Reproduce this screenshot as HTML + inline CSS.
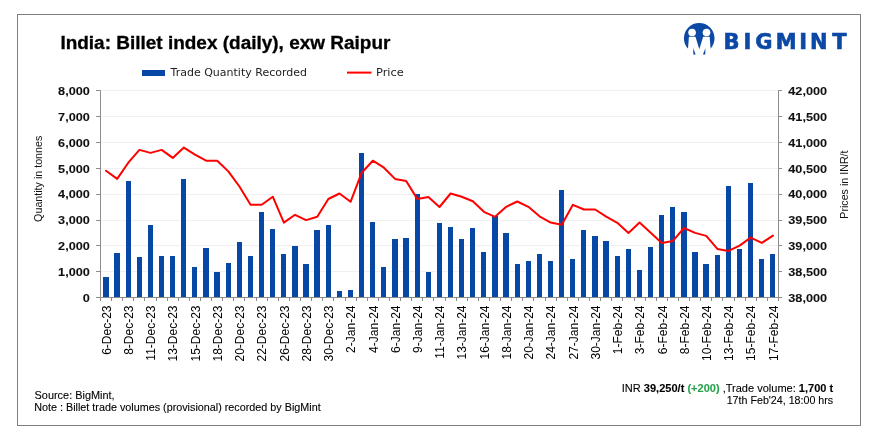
<!DOCTYPE html>
<html lang="en"><head><meta charset="utf-8"><title>India: Billet index (daily), exw Raipur</title>
<style>
html,body{margin:0;padding:0;background:#fff;}
body{width:881px;height:447px;overflow:hidden;}
svg{display:block;}
text{font-family:"Liberation Sans",Arial,sans-serif;fill:#111;}
.t{font-weight:700;font-size:18px;fill:#000;}
.yl{font-weight:700;font-size:11.7px;fill:#111;stroke:#111;stroke-width:0.08px;}
.xl{font-size:12px;fill:#000;}
.at{font-size:10.7px;fill:#111;}
.lg{font-family:"DejaVu Sans","Liberation Sans",sans-serif;font-size:10.3px;fill:#222;}
.ft{font-size:10.8px;fill:#000;stroke:#000;stroke-width:0.1px;}
.b{font-weight:700;}
.g{font-weight:700;fill:#2aa24d;stroke:#2aa24d;}
.logo{font-family:"DejaVu Sans","Liberation Sans",sans-serif;font-weight:700;font-size:21px;fill:#0c49a5;}
</style></head><body>
<svg width="881" height="447" viewBox="0 0 881 447">
<rect x="0" y="0" width="881" height="447" fill="#fff"/>
<rect x="17.5" y="14.5" width="843" height="411" fill="#fff" stroke="#7f7f7f" stroke-width="1"/>
<line x1="100.5" y1="271.50" x2="778.5" y2="271.50" stroke="#f0f0f0" stroke-width="1"/>
<line x1="100.5" y1="245.50" x2="778.5" y2="245.50" stroke="#f0f0f0" stroke-width="1"/>
<line x1="100.5" y1="220.50" x2="778.5" y2="220.50" stroke="#f0f0f0" stroke-width="1"/>
<line x1="100.5" y1="194.50" x2="778.5" y2="194.50" stroke="#f0f0f0" stroke-width="1"/>
<line x1="100.5" y1="168.50" x2="778.5" y2="168.50" stroke="#f0f0f0" stroke-width="1"/>
<line x1="100.5" y1="142.50" x2="778.5" y2="142.50" stroke="#f0f0f0" stroke-width="1"/>
<line x1="100.5" y1="116.50" x2="778.5" y2="116.50" stroke="#f0f0f0" stroke-width="1"/>
<line x1="100.5" y1="90.50" x2="778.5" y2="90.50" stroke="#f0f0f0" stroke-width="1"/>
<g fill="#0747A6">
<rect x="103" y="277" width="6" height="20"/>
<rect x="114" y="253" width="6" height="44"/>
<rect x="126" y="181" width="5" height="116"/>
<rect x="137" y="257" width="5" height="40"/>
<rect x="148" y="225" width="5" height="72"/>
<rect x="159" y="256" width="5" height="41"/>
<rect x="170" y="256" width="5" height="41"/>
<rect x="181" y="179" width="5" height="118"/>
<rect x="192" y="267" width="5" height="30"/>
<rect x="203" y="248" width="6" height="49"/>
<rect x="214" y="272" width="6" height="25"/>
<rect x="226" y="263" width="5" height="34"/>
<rect x="237" y="242" width="5" height="55"/>
<rect x="248" y="256" width="5" height="41"/>
<rect x="259" y="212" width="5" height="85"/>
<rect x="270" y="229" width="5" height="68"/>
<rect x="281" y="254" width="5" height="43"/>
<rect x="292" y="246" width="6" height="51"/>
<rect x="303" y="264" width="6" height="33"/>
<rect x="314" y="230" width="6" height="67"/>
<rect x="326" y="225" width="5" height="72"/>
<rect x="337" y="291" width="5" height="6"/>
<rect x="348" y="290" width="5" height="7"/>
<rect x="359" y="153" width="5" height="144"/>
<rect x="370" y="222" width="5" height="75"/>
<rect x="381" y="267" width="5" height="30"/>
<rect x="392" y="239" width="6" height="58"/>
<rect x="403" y="238" width="6" height="59"/>
<rect x="415" y="194" width="5" height="103"/>
<rect x="426" y="272" width="5" height="25"/>
<rect x="437" y="223" width="5" height="74"/>
<rect x="448" y="227" width="5" height="70"/>
<rect x="459" y="239" width="5" height="58"/>
<rect x="470" y="228" width="5" height="69"/>
<rect x="481" y="252" width="5" height="45"/>
<rect x="492" y="216" width="6" height="81"/>
<rect x="503" y="233" width="6" height="64"/>
<rect x="515" y="264" width="5" height="33"/>
<rect x="526" y="261" width="5" height="36"/>
<rect x="537" y="254" width="5" height="43"/>
<rect x="548" y="261" width="5" height="36"/>
<rect x="559" y="190" width="5" height="107"/>
<rect x="570" y="259" width="5" height="38"/>
<rect x="581" y="230" width="5" height="67"/>
<rect x="592" y="236" width="6" height="61"/>
<rect x="603" y="241" width="6" height="56"/>
<rect x="615" y="256" width="5" height="41"/>
<rect x="626" y="249" width="5" height="48"/>
<rect x="637" y="270" width="5" height="27"/>
<rect x="648" y="247" width="5" height="50"/>
<rect x="659" y="215" width="5" height="82"/>
<rect x="670" y="207" width="5" height="90"/>
<rect x="681" y="212" width="6" height="85"/>
<rect x="692" y="252" width="6" height="45"/>
<rect x="703" y="264" width="6" height="33"/>
<rect x="715" y="255" width="5" height="42"/>
<rect x="726" y="186" width="5" height="111"/>
<rect x="737" y="249" width="5" height="48"/>
<rect x="748" y="183" width="5" height="114"/>
<rect x="759" y="259" width="5" height="38"/>
<rect x="770" y="254" width="5" height="43"/>
</g>
<g stroke="#8c8c8c" stroke-width="1" fill="none">
<line x1="100.5" y1="90.5" x2="100.5" y2="297.5"/>
<line x1="778.5" y1="90.5" x2="778.5" y2="297.5"/>
<line x1="100.5" y1="297.5" x2="778.5" y2="297.5"/>
<line x1="96.0" y1="297.50" x2="100.5" y2="297.50"/>
<line x1="778.5" y1="297.50" x2="782.0" y2="297.50"/>
<line x1="96.0" y1="271.50" x2="100.5" y2="271.50"/>
<line x1="778.5" y1="271.50" x2="782.0" y2="271.50"/>
<line x1="96.0" y1="245.50" x2="100.5" y2="245.50"/>
<line x1="778.5" y1="245.50" x2="782.0" y2="245.50"/>
<line x1="96.0" y1="220.50" x2="100.5" y2="220.50"/>
<line x1="778.5" y1="220.50" x2="782.0" y2="220.50"/>
<line x1="96.0" y1="194.50" x2="100.5" y2="194.50"/>
<line x1="778.5" y1="194.50" x2="782.0" y2="194.50"/>
<line x1="96.0" y1="168.50" x2="100.5" y2="168.50"/>
<line x1="778.5" y1="168.50" x2="782.0" y2="168.50"/>
<line x1="96.0" y1="142.50" x2="100.5" y2="142.50"/>
<line x1="778.5" y1="142.50" x2="782.0" y2="142.50"/>
<line x1="96.0" y1="116.50" x2="100.5" y2="116.50"/>
<line x1="778.5" y1="116.50" x2="782.0" y2="116.50"/>
<line x1="96.0" y1="90.50" x2="100.5" y2="90.50"/>
<line x1="778.5" y1="90.50" x2="782.0" y2="90.50"/>
<line x1="100.50" y1="297.5" x2="100.50" y2="301.0"/>
<line x1="111.50" y1="297.5" x2="111.50" y2="301.0"/>
<line x1="122.50" y1="297.5" x2="122.50" y2="301.0"/>
<line x1="133.50" y1="297.5" x2="133.50" y2="301.0"/>
<line x1="144.50" y1="297.5" x2="144.50" y2="301.0"/>
<line x1="156.50" y1="297.5" x2="156.50" y2="301.0"/>
<line x1="167.50" y1="297.5" x2="167.50" y2="301.0"/>
<line x1="178.50" y1="297.5" x2="178.50" y2="301.0"/>
<line x1="189.50" y1="297.5" x2="189.50" y2="301.0"/>
<line x1="200.50" y1="297.5" x2="200.50" y2="301.0"/>
<line x1="211.50" y1="297.5" x2="211.50" y2="301.0"/>
<line x1="222.50" y1="297.5" x2="222.50" y2="301.0"/>
<line x1="233.50" y1="297.5" x2="233.50" y2="301.0"/>
<line x1="244.50" y1="297.5" x2="244.50" y2="301.0"/>
<line x1="256.50" y1="297.5" x2="256.50" y2="301.0"/>
<line x1="267.50" y1="297.5" x2="267.50" y2="301.0"/>
<line x1="278.50" y1="297.5" x2="278.50" y2="301.0"/>
<line x1="289.50" y1="297.5" x2="289.50" y2="301.0"/>
<line x1="300.50" y1="297.5" x2="300.50" y2="301.0"/>
<line x1="311.50" y1="297.5" x2="311.50" y2="301.0"/>
<line x1="322.50" y1="297.5" x2="322.50" y2="301.0"/>
<line x1="333.50" y1="297.5" x2="333.50" y2="301.0"/>
<line x1="345.50" y1="297.5" x2="345.50" y2="301.0"/>
<line x1="356.50" y1="297.5" x2="356.50" y2="301.0"/>
<line x1="367.50" y1="297.5" x2="367.50" y2="301.0"/>
<line x1="378.50" y1="297.5" x2="378.50" y2="301.0"/>
<line x1="389.50" y1="297.5" x2="389.50" y2="301.0"/>
<line x1="400.50" y1="297.5" x2="400.50" y2="301.0"/>
<line x1="411.50" y1="297.5" x2="411.50" y2="301.0"/>
<line x1="422.50" y1="297.5" x2="422.50" y2="301.0"/>
<line x1="433.50" y1="297.5" x2="433.50" y2="301.0"/>
<line x1="445.50" y1="297.5" x2="445.50" y2="301.0"/>
<line x1="456.50" y1="297.5" x2="456.50" y2="301.0"/>
<line x1="467.50" y1="297.5" x2="467.50" y2="301.0"/>
<line x1="478.50" y1="297.5" x2="478.50" y2="301.0"/>
<line x1="489.50" y1="297.5" x2="489.50" y2="301.0"/>
<line x1="500.50" y1="297.5" x2="500.50" y2="301.0"/>
<line x1="511.50" y1="297.5" x2="511.50" y2="301.0"/>
<line x1="522.50" y1="297.5" x2="522.50" y2="301.0"/>
<line x1="533.50" y1="297.5" x2="533.50" y2="301.0"/>
<line x1="545.50" y1="297.5" x2="545.50" y2="301.0"/>
<line x1="556.50" y1="297.5" x2="556.50" y2="301.0"/>
<line x1="567.50" y1="297.5" x2="567.50" y2="301.0"/>
<line x1="578.50" y1="297.5" x2="578.50" y2="301.0"/>
<line x1="589.50" y1="297.5" x2="589.50" y2="301.0"/>
<line x1="600.50" y1="297.5" x2="600.50" y2="301.0"/>
<line x1="611.50" y1="297.5" x2="611.50" y2="301.0"/>
<line x1="622.50" y1="297.5" x2="622.50" y2="301.0"/>
<line x1="634.50" y1="297.5" x2="634.50" y2="301.0"/>
<line x1="645.50" y1="297.5" x2="645.50" y2="301.0"/>
<line x1="656.50" y1="297.5" x2="656.50" y2="301.0"/>
<line x1="667.50" y1="297.5" x2="667.50" y2="301.0"/>
<line x1="678.50" y1="297.5" x2="678.50" y2="301.0"/>
<line x1="689.50" y1="297.5" x2="689.50" y2="301.0"/>
<line x1="700.50" y1="297.5" x2="700.50" y2="301.0"/>
<line x1="711.50" y1="297.5" x2="711.50" y2="301.0"/>
<line x1="722.50" y1="297.5" x2="722.50" y2="301.0"/>
<line x1="734.50" y1="297.5" x2="734.50" y2="301.0"/>
<line x1="745.50" y1="297.5" x2="745.50" y2="301.0"/>
<line x1="756.50" y1="297.5" x2="756.50" y2="301.0"/>
<line x1="767.50" y1="297.5" x2="767.50" y2="301.0"/>
<line x1="778.50" y1="297.5" x2="778.50" y2="301.0"/>
</g>
<polyline points="106.06,170.7 117.17,178.9 128.29,162.7 139.40,149.9 150.52,152.9 161.63,149.9 172.75,157.9 183.86,147.6 194.98,154.6 206.09,160.7 217.20,160.7 228.32,171.4 239.43,186.5 250.55,204.8 261.66,204.8 272.78,196.7 283.89,222.6 295.01,214.8 306.12,220.1 317.24,216.8 328.35,199.0 339.47,193.5 350.58,201.8 361.70,172.7 372.81,160.7 383.93,167.7 395.04,178.9 406.16,181.0 417.27,198.9 428.39,197.0 439.50,207.0 450.61,193.5 461.73,196.8 472.84,201.3 483.96,211.8 495.07,216.8 506.19,206.8 517.30,201.5 528.42,206.8 539.53,216.3 550.65,222.6 561.76,224.8 572.88,204.8 583.99,209.5 595.11,209.5 606.22,216.6 617.34,222.8 628.45,232.9 639.57,222.6 650.68,232.7 661.80,242.9 672.91,240.9 684.02,228.0 695.14,232.9 706.25,235.9 717.37,248.9 728.48,250.9 739.60,245.6 750.71,237.6 761.83,242.9 772.94,235.6" fill="none" stroke="#ff0000" stroke-width="2" stroke-linejoin="round" stroke-linecap="round"/>
<text class="yl" x="89.8" y="301.90" text-anchor="end" textLength="7.1" lengthAdjust="spacingAndGlyphs">0</text>
<text class="yl" x="89.8" y="276.02" text-anchor="end" textLength="31.7" lengthAdjust="spacingAndGlyphs">1,000</text>
<text class="yl" x="89.8" y="250.15" text-anchor="end" textLength="31.7" lengthAdjust="spacingAndGlyphs">2,000</text>
<text class="yl" x="89.8" y="224.28" text-anchor="end" textLength="31.7" lengthAdjust="spacingAndGlyphs">3,000</text>
<text class="yl" x="89.8" y="198.40" text-anchor="end" textLength="31.7" lengthAdjust="spacingAndGlyphs">4,000</text>
<text class="yl" x="89.8" y="172.53" text-anchor="end" textLength="31.7" lengthAdjust="spacingAndGlyphs">5,000</text>
<text class="yl" x="89.8" y="146.65" text-anchor="end" textLength="31.7" lengthAdjust="spacingAndGlyphs">6,000</text>
<text class="yl" x="89.8" y="120.78" text-anchor="end" textLength="31.7" lengthAdjust="spacingAndGlyphs">7,000</text>
<text class="yl" x="89.8" y="94.90" text-anchor="end" textLength="31.7" lengthAdjust="spacingAndGlyphs">8,000</text>
<text class="yl" x="788.3" y="301.90" textLength="38.8" lengthAdjust="spacingAndGlyphs">38,000</text>
<text class="yl" x="788.3" y="276.02" textLength="38.8" lengthAdjust="spacingAndGlyphs">38,500</text>
<text class="yl" x="788.3" y="250.15" textLength="38.8" lengthAdjust="spacingAndGlyphs">39,000</text>
<text class="yl" x="788.3" y="224.28" textLength="38.8" lengthAdjust="spacingAndGlyphs">39,500</text>
<text class="yl" x="788.3" y="198.40" textLength="38.8" lengthAdjust="spacingAndGlyphs">40,000</text>
<text class="yl" x="788.3" y="172.53" textLength="38.8" lengthAdjust="spacingAndGlyphs">40,500</text>
<text class="yl" x="788.3" y="146.65" textLength="38.8" lengthAdjust="spacingAndGlyphs">41,000</text>
<text class="yl" x="788.3" y="120.78" textLength="38.8" lengthAdjust="spacingAndGlyphs">41,500</text>
<text class="yl" x="788.3" y="94.90" textLength="38.8" lengthAdjust="spacingAndGlyphs">42,000</text>
<text class="xl" transform="translate(110.76,305.5) rotate(-90)" text-anchor="end">6-Dec-23</text>
<text class="xl" transform="translate(132.99,305.5) rotate(-90)" text-anchor="end">8-Dec-23</text>
<text class="xl" transform="translate(155.22,305.5) rotate(-90)" text-anchor="end">11-Dec-23</text>
<text class="xl" transform="translate(177.45,305.5) rotate(-90)" text-anchor="end">13-Dec-23</text>
<text class="xl" transform="translate(199.68,305.5) rotate(-90)" text-anchor="end">15-Dec-23</text>
<text class="xl" transform="translate(221.90,305.5) rotate(-90)" text-anchor="end">18-Dec-23</text>
<text class="xl" transform="translate(244.13,305.5) rotate(-90)" text-anchor="end">20-Dec-23</text>
<text class="xl" transform="translate(266.36,305.5) rotate(-90)" text-anchor="end">22-Dec-23</text>
<text class="xl" transform="translate(288.59,305.5) rotate(-90)" text-anchor="end">26-Dec-23</text>
<text class="xl" transform="translate(310.82,305.5) rotate(-90)" text-anchor="end">28-Dec-23</text>
<text class="xl" transform="translate(333.05,305.5) rotate(-90)" text-anchor="end">30-Dec-23</text>
<text class="xl" transform="translate(355.28,305.5) rotate(-90)" text-anchor="end">2-Jan-24</text>
<text class="xl" transform="translate(377.51,305.5) rotate(-90)" text-anchor="end">4-Jan-24</text>
<text class="xl" transform="translate(399.74,305.5) rotate(-90)" text-anchor="end">6-Jan-24</text>
<text class="xl" transform="translate(421.97,305.5) rotate(-90)" text-anchor="end">9-Jan-24</text>
<text class="xl" transform="translate(444.20,305.5) rotate(-90)" text-anchor="end">11-Jan-24</text>
<text class="xl" transform="translate(466.43,305.5) rotate(-90)" text-anchor="end">13-Jan-24</text>
<text class="xl" transform="translate(488.66,305.5) rotate(-90)" text-anchor="end">16-Jan-24</text>
<text class="xl" transform="translate(510.89,305.5) rotate(-90)" text-anchor="end">18-Jan-24</text>
<text class="xl" transform="translate(533.12,305.5) rotate(-90)" text-anchor="end">20-Jan-24</text>
<text class="xl" transform="translate(555.35,305.5) rotate(-90)" text-anchor="end">24-Jan-24</text>
<text class="xl" transform="translate(577.58,305.5) rotate(-90)" text-anchor="end">27-Jan-24</text>
<text class="xl" transform="translate(599.81,305.5) rotate(-90)" text-anchor="end">30-Jan-24</text>
<text class="xl" transform="translate(622.04,305.5) rotate(-90)" text-anchor="end">1-Feb-24</text>
<text class="xl" transform="translate(644.27,305.5) rotate(-90)" text-anchor="end">3-Feb-24</text>
<text class="xl" transform="translate(666.50,305.5) rotate(-90)" text-anchor="end">6-Feb-24</text>
<text class="xl" transform="translate(688.72,305.5) rotate(-90)" text-anchor="end">8-Feb-24</text>
<text class="xl" transform="translate(710.95,305.5) rotate(-90)" text-anchor="end">10-Feb-24</text>
<text class="xl" transform="translate(733.18,305.5) rotate(-90)" text-anchor="end">13-Feb-24</text>
<text class="xl" transform="translate(755.41,305.5) rotate(-90)" text-anchor="end">15-Feb-24</text>
<text class="xl" transform="translate(777.64,305.5) rotate(-90)" text-anchor="end">17-Feb-24</text>
<text class="at" transform="translate(42.2,178.8) rotate(-90)" text-anchor="middle">Quantity in tonnes</text>
<text class="at" transform="translate(848,184.6) rotate(-90)" text-anchor="middle">Prices in INR/t</text>
<text class="t" x="60.4" y="49" textLength="330" stroke="#000" stroke-width="0.3" lengthAdjust="spacingAndGlyphs">India: Billet index (daily), exw Raipur</text>
<rect x="142" y="70" width="23" height="6" fill="#0747A6"/>
<text class="lg" x="170.6" y="75.8" textLength="136.4" lengthAdjust="spacingAndGlyphs">Trade Quantity Recorded</text>
<line x1="347" y1="72.6" x2="371.5" y2="72.6" stroke="#ff0000" stroke-width="2"/>
<text class="lg" x="376" y="75.8" textLength="27.8" lengthAdjust="spacingAndGlyphs">Price</text>
<g transform="translate(680,20) scale(0.08503)">
<circle cx="226" cy="215" r="180" fill="#0c49a5"/>
<circle cx="142" cy="147" r="45" fill="#fff"/>
<circle cx="312" cy="147" r="45" fill="#fff"/>
<path d="M105 198 L182 198 L227 345 L272 198 L349 198 L368 440 L86 440 Z" fill="#fff"/>
<path d="M155 328 L184 406 L157 406 Z" fill="#0c49a5"/>
<path d="M299 328 L270 406 L297 406 Z" fill="#0c49a5"/>
</g>
<text class="logo" x="723.40 743.44 755.20 775.65 799.29 810.06 832.17" y="49.4" stroke="#0c49a5" stroke-width="0.6">BIGMINT</text>
<text class="ft" x="34.6" y="399" textLength="80" lengthAdjust="spacingAndGlyphs">Source: BigMint,</text>
<text class="ft" x="34.2" y="411" textLength="286.5" lengthAdjust="spacingAndGlyphs">Note : Billet trade volumes (provisional) recorded by BigMint</text>
<text class="ft" x="833.2" y="392" text-anchor="end" textLength="211.4" lengthAdjust="spacingAndGlyphs">INR <tspan class="b">39,250/t </tspan><tspan class="g">(+200) </tspan>,Trade volume: <tspan class="b">1,700 t</tspan></text>
<text class="ft" x="833.2" y="404" text-anchor="end" textLength="106.5" lengthAdjust="spacingAndGlyphs">17th Feb'24, 18:00 hrs</text>
</svg></body></html>
